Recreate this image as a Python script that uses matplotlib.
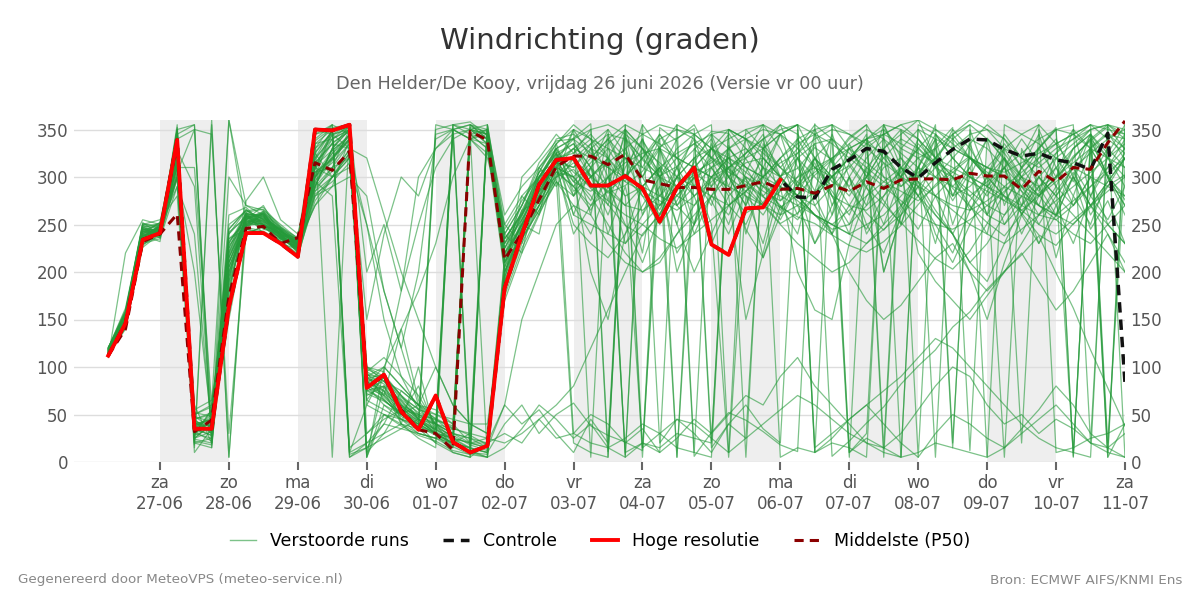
import matplotlib
matplotlib.use("Agg")
import matplotlib.pyplot as plt
from matplotlib.lines import Line2D
import pandas as pd

# ---------------- data ----------------
start_time = "2026-06-26 06:00"
n_steps = 60  # 6-hourly

day_ticks = ["2026-06-27", "2026-06-28", "2026-06-29", "2026-06-30", "2026-07-01",
             "2026-07-02", "2026-07-03", "2026-07-04", "2026-07-05", "2026-07-06",
             "2026-07-07", "2026-07-08", "2026-07-09", "2026-07-10", "2026-07-11"]
day_labels = ["za\n27-06", "zo\n28-06", "ma\n29-06", "di\n30-06", "wo\n01-07",
              "do\n02-07", "vr\n03-07", "za\n04-07", "zo\n05-07", "ma\n06-07",
              "di\n07-07", "wo\n08-07", "do\n09-07", "vr\n10-07", "za\n11-07"]
shaded_days = ["2026-06-27", "2026-06-29", "2026-07-01", "2026-07-03",
               "2026-07-05", "2026-07-07", "2026-07-09"]

hres = [112, 146, 234, 241, 339, 35, 35, 163, 241, 241, 230, 216, 350, 349, 355,
        78, 92, 53, 34, 70, 21, 10, 17, 183, 239, 292, 318, 320, 291, 291,
        301, 288, 253, 289, 310, 229, 218, 267, 268, 297]

control = [112, 146, 234, 241, 339, 35, 35, 163, 241, 241, 230, 216, 350, 349, 355,
           78, 92, 53, 34, 70, 21, 10, 17, 183, 239, 292, 318, 320, 291, 291,
           301, 288, 253, 289, 310, 229, 218, 267, 268, 297, 279, 278, 308, 318, 330,
           327, 310, 299, 315, 329, 340, 339, 329, 322, 325, 318, 315, 308, 346, 83]

p50 = [112, 140, 232, 240, 261, 32, 44, 174, 246, 248, 230, 236, 315, 307, 327,
       80, 90, 55, 34, 30, 13, 348, 339, 213, 241, 276, 311, 322, 322, 313,
       324, 297, 293, 289, 289, 287, 287, 291, 295, 287, 288, 283, 291, 285, 295,
       288, 297, 298, 298, 297, 304, 301, 301, 287, 306, 295, 310, 308, 336, 359]

run01 = [115,150,240,245,330,40,45,200,255,250,235,225,300,320,340, 80,60,45,30,25,15,350,340,230,260,290,310, 330,345,322,8,338,312,290,302,318,284,262,273,301,309,331,318,288,262,244,268,303,332,352,12,341,318,297,281,258,302,331,347,318]
run02 = [118,145,235,250,300,30,25,180,260,245,240,220,290,330,350, 90,70,50,40,20,10,5,20,200,240,280,320, 318,302,283,291,306,332,341,351,22,333,298,272,251,262,279,301,312,288,271,252,233,214,203,222,251,283,309,331,352,6,338,302,276]
run03 = [120,160,245,240,350,355,20,240,265,255,245,230,310,340,355, 10,80,55,35,350,355,345,330,220,250,300,330, 341,356,11,342,318,301,311,329,348,346,319,293,268,281,302,318,342,355,14,349,331,312,288,269,252,238,261,283,298,322,338,353,329]
run04 = [112,140,230,235,290,50,60,210,250,260,230,215,285,300,320, 100,85,60,45,30,25,20,15,180,230,270,300, 308,288,271,249,238,262,281,299,321,308,292,279,268,258,251,239,228,221,232,249,271,292,308,322,301,279,262,239,228,251,268,291,302]
run05 = [110,220,255,250,320,10,35,150,245,240,235,225,320,350,5, 15,40,35,30,25,20,15,10,40,60,30,50, 62,38,28,21,12,352,338,6,31,52,44,32,18,11,356,6,22,41,58,82,101,118,142,158,182,201,218,238,199,162,118,78,38]
run06 = [116,150,238,248,340,45,30,300,270,265,250,235,330,345,350, 85,75,40,25,15,350,340,320,250,280,300,325, 295,315,335,350,330,300,280,270,290,310,325,340,355,345,320,295,285,300,330,350,5,345,320,300,290,275,300,330,350,355,20,345,330]
run07 = [119,155,250,255,280,25,40,230,258,262,238,228,305,310,335, 95,110,90,70,40,30,355,350,210,235,265,305, 300,280,250,220,200,210,240,270,300,320,330,310,290,280,260,240,270,300,320,340,330,310,300,280,260,250,270,290,310,330,345,5,350]
run08 = [114,148,228,242,310,310,60,360,250,255,240,222,280,290,300, 280,180,120,60,30,20,10,5,190,245,285,315, 280,300,320,10,20,15,30,25,20,350,330,310,300,280,270,290,310,330,345,355,340,320,300,285,270,260,280,300,320,335,350,355,340]
run09 = [121,152,246,238,345,35,50,220,262,240,232,218,340,355,10, 20,30,40,35,345,350,355,340,240,270,310,335, 350,5,340,320,300,330,355,10,345,330,310,300,320,340,350,355,330,315,300,290,305,320,345,360,350,330,320,310,325,340,355,20,310]
run10 = [113,143,236,246,325,60,20,170,240,248,236,230,295,320,345, 75,65,50,60,45,30,25,20,60,150,200,250, 270,260,230,210,200,215,240,260,280,300,315,320,300,280,260,245,250,270,290,305,220,190,170,150,175,200,220,190,160,180,210,240,200]
run11 = [117,158,242,252,300,200,40,190,275,300,255,240,315,335,330, 320,260,200,150,100,60,40,30,205,255,295,320, 325,340,300,280,290,310,250,200,240,280,300,290,270,255,280,310,330,340,320,300,280,260,240,210,230,260,290,320,340,300,270,250,230]
run12 = [111,146,232,244,335,15,355,5,252,258,244,226,290,310,350, 5,50,45,40,30,345,350,335,225,265,300,328, 30,20,15,25,40,30,15,10,5,350,340,330,345,355,10,20,15,5,350,330,320,300,280,290,310,330,345,355,10,15,25,30,40]
run13 = [120,162,248,236,350,40,35,260,268,250,242,235,350,345,355, 88,92,70,55,50,40,350,345,215,250,285,318, 310,330,345,340,320,300,290,305,315,330,340,350,345,320,300,280,270,265,280,300,320,330,345,355,340,320,300,290,300,315,330,345,340]
run14 = [115,141,226,240,315,30,45,215,255,270,238,221,300,325,340, 70,80,65,45,35,355,10,20,195,238,278,306, 290,270,285,300,320,340,350,345,330,310,290,270,250,230,215,200,210,230,250,270,290,310,330,345,350,340,320,300,280,260,240,220,200]
run15 = [118,154,244,250,290,240,30,235,245,242,230,224,325,300,310, 250,150,90,55,40,30,20,350,235,260,305,340, 345,330,320,300,280,270,290,310,330,340,350,355,345,330,310,300,320,340,350,5,10,20,15,10,5,355,345,335,320,310,300,290,280]
run16 = [112,149,239,232,330,55,65,175,262,256,246,232,310,350,355, 5,60,50,40,30,20,345,330,200,245,290,322, 335,310,290,270,265,280,300,320,330,315,300,285,275,290,305,320,335,350,340,325,310,300,290,280,295,310,325,340,350,345,330,320,310]
run17 = [116,157,251,247,345,20,15,210,257,253,241,229,270,300,320, 82,100,140,180,230,300,340,350,260,290,310,330, 300,320,340,355,15,30,45,40,25,10,350,330,310,290,280,300,320,340,355,350,340,320,310,300,290,280,270,260,255,270,290,310,330]
run18 = [114,145,234,243,305,35,28,360,270,260,234,227,335,350,8, 15,25,35,45,40,35,30,25,20,30,45,60, 80,120,160,200,240,260,280,300,310,320,305,290,280,270,260,250,240,250,260,280,300,320,340,355,5,15,30,45,60,40,20,10,5]
run19 = [119,150,240,238,355,45,50,205,249,252,239,233,305,318,345, 95,85,75,60,50,45,40,40,170,220,260,300, 315,300,285,270,290,310,325,335,320,305,295,280,300,320,335,340,325,310,295,285,275,290,305,320,310,300,285,270,260,275,290,305,320]
run20 = [113,147,229,241,320,25,40,225,263,266,247,236,290,330,350, 78,70,55,40,30,25,355,340,230,270,315,338, 340,350,355,345,330,315,300,290,280,270,285,300,320,335,345,355,10,25,15,5,350,340,330,320,310,305,315,325,335,345,355,350,345]
run21 = [117,153,247,251,340,350,345,30,240,248,232,216,280,300,325, 30,45,55,50,40,25,15,10,215,250,280,310, 250,230,215,240,270,300,320,335,345,350,340,320,300,280,260,250,240,230,245,260,280,300,320,340,330,310,290,270,255,240,230,250,270]
run22 = [115,151,233,245,310,48,36,195,256,261,244,231,320,340,350, 90,75,60,50,45,35,340,335,205,240,275,302, 320,335,350,5,20,10,355,345,330,320,310,300,290,275,260,250,265,280,295,310,330,350,340,320,305,290,280,270,260,250,270,295,320]
run23 = [120,159,252,239,300,32,22,245,266,249,237,225,300,315,335, 65,55,45,35,30,20,350,355,245,275,300,324, 305,290,275,260,250,235,225,240,255,270,285,300,315,325,340,350,345,335,325,310,295,280,265,250,240,230,245,260,275,290,305,320,335]
run24 = [111,144,237,248,335,28,55,185,248,257,243,230,345,350,355, 5,100,80,60,40,30,25,15,190,235,270,298, 20,10,5,355,345,335,320,310,300,310,320,330,345,355,15,30,45,60,75,90,110,130,120,100,80,60,40,25,15,10,5,355,350]
run25 = [116,148,241,244,318,40,44,215,258,254,238,226,308,336,348, 85,90,70,45,30,20,15,350,225,255,290,315, 330,320,310,295,285,275,265,280,295,310,325,340,350,355,345,335,320,305,290,275,260,250,245,255,270,285,300,315,330,340,350,355,345]
run26 = [118,156,243,236,328,290,30,170,246,262,246,234,312,328,342, 100,95,180,250,310,340,350,345,220,260,295,330, 285,300,315,330,345,355,350,340,320,300,285,270,260,270,285,300,320,335,345,355,360,350,335,320,300,280,265,250,240,255,270,285,300]
run27 = [113,142,231,249,312,38,34,222,259,250,240,228,296,322,339, 60,50,40,30,25,35,345,340,210,245,285,312, 350,340,330,320,310,300,330,345,355,10,25,40,55,70,60,45,30,20,10,5,355,345,330,320,310,300,290,280,300,320,340,355,5]
run28 = [119,151,245,242,348,22,18,205,253,247,236,222,318,344,352, 80,72,58,48,36,28,18,12,200,248,282,316, 295,285,300,315,325,330,320,310,300,290,280,270,285,300,310,320,330,340,345,335,325,315,305,295,285,275,265,280,295,310,325,340,350]
run29 = [114,146,236,240,302,52,48,198,261,259,242,229,288,306,328, 92,88,66,52,44,38,352,348,235,262,298,326, 260,250,240,230,250,270,290,310,330,350,340,325,310,295,280,240,200,170,150,165,190,215,230,200,180,200,230,260,290,330,345,320,300]
run30 = [117,155,249,246,338,30,38,232,255,264,245,233,326,348,356, 72,64,52,42,34,355,358,344,218,252,292,320, 340,325,310,300,290,280,270,290,310,330,345,355,5,15,10,355,345,330,315,300,290,280,270,265,275,290,305,320,335,345,355,340,325]
run31 = [114,150,242,247,325,42,38,230,262,258,240,226,295,280,10, 60,95,40,100,28,20,30,355,250,230,310,290, 320,260,345,300,330,280,310,250,335,290,340,300,260,320,285,345,300,270,330,250,310,355,20,335,290,310,270,330,300,350,280,320,290]
run32 = [116,147,238,243,315,30,55,210,250,262,236,224,340,5,350, 85,70,140,65,40,15,345,5,205,280,260,335, 280,330,290,345,260,310,5,300,270,325,240,300,345,290,315,260,335,300,355,310,280,320,250,300,340,270,310,345,290,10,330,300,260]
run33 = [112,144,233,239,300,48,42,190,258,246,241,230,270,290,340, 95,65,50,80,35,25,20,15,60,40,55,30, 10,45,20,350,5,330,300,345,15,40,25,330,300,280,320,340,10,30,355,320,300,340,15,350,300,330,20,350,310,280,330,5,40]
run34 = [119,153,247,241,342,35,28,245,265,255,243,231,310,345,330, 100,90,60,35,20,350,340,325,240,220,300,310, 300,275,320,295,340,270,300,240,280,260,300,215,270,240,310,290,330,300,275,250,300,330,280,310,260,290,240,280,310,270,300,250,230]
run35 = [117,149,240,252,335,25,32,200,248,264,237,228,330,355,345, 75,80,45,38,30,10,5,350,230,255,285,300, 350,320,340,300,355,330,285,315,345,300,325,355,330,290,345,315,340,355,325,300,335,315,350,330,300,345,320,355,335,310,345,325,355]
run36 = [113,145,235,247,305,350,40,220,255,250,240,232,290,330,355, 200,250,180,300,330,345,20,25,215,250,240,320, 260,310,240,290,220,330,270,300,250,5,280,230,300,260,320,280,240,310,200,260,290,230,300,270,240,320,260,290,215,280,250,300,270]
run37 = [118,156,244,238,352,38,45,180,260,253,245,227,305,320,338, 90,100,80,60,100,60,40,30,190,300,320,345, 325,350,5,340,310,345,320,290,330,300,270,310,345,355,320,300,280,310,330,345,360,320,290,310,340,325,300,280,300,330,350,10,355]
run38 = [115,152,239,244,322,42,30,235,251,259,239,225,285,310,320, 82,68,52,44,30,18,10,8,185,240,270,310, 300,200,150,240,290,310,270,250,300,320,280,260,290,200,160,150,230,280,310,320,290,260,240,210,190,230,270,300,280,310,260,290,320]
run39 = [120,158,250,249,310,20,25,250,264,268,248,234,300,350,5, 20,40,75,60,55,40,20,20,30,20,45,25, 30,50,40,20,35,10,25,45,30,50,70,60,90,110,80,60,40,20,15,30,55,80,100,90,60,40,50,30,45,35,20,15,30]
run40 = [111,143,231,237,298,45,52,205,247,243,233,219,275,300,330, 150,240,300,280,330,350,340,345,200,235,265,295, 270,240,290,250,210,260,300,280,230,270,250,290,320,270,230,260,300,240,270,310,280,250,220,265,300,250,280,230,260,300,270,240,210]
run41 = [116,151,237,246,328,33,41,225,260,261,242,229,315,335,350, 78,85,62,48,40,355,350,345,210,265,275,325, 335,310,350,325,300,340,5,330,310,285,320,345,300,325,350,315,290,320,340,305,330,5,345,320,300,335,310,285,325,350,330,300,325]
run42 = [114,148,243,242,336,28,36,195,256,252,237,223,300,325,345, 88,78,58,42,32,22,12,5,195,245,290,318, 290,265,300,320,280,250,275,305,290,330,310,280,255,290,320,300,270,245,280,310,295,265,240,275,300,320,290,260,285,310,280,255,290]
run43 = [118,146,236,250,345,355,15,210,254,249,240,230,335,340,350, 65,90,70,50,38,26,350,335,225,258,300,330, 340,300,320,280,15,300,250,320,340,300,270,330,355,310,280,320,5,340,300,270,310,340,280,320,300,5,330,290,260,320,340,300,270]
run44 = [112,155,245,238,320,37,47,240,259,257,244,228,310,300,325, 250,180,120,200,340,350,5,350,240,270,305,315, 310,335,275,350,300,265,310,340,290,250,305,340,275,300,335,270,315,290,250,300,340,310,275,305,260,330,300,270,320,295,345,300,280]
run45 = [119,150,241,245,333,44,33,218,252,263,247,232,325,348,352, 92,82,64,46,34,24,345,350,210,250,280,305, 290,310,330,300,320,345,310,280,300,270,290,320,300,340,310,285,260,300,330,290,310,345,320,300,280,310,340,315,290,270,300,330,310]
run46 = [115,147,234,240,318,36,40,228,249,251,235,226,292,318,340, 76,66,48,38,28,16,8,355,220,246,270,318, 330,300,260,310,340,300,200,250,310,280,150,220,290,320,270,240,300,330,200,260,310,280,240,200,150,210,260,300,270,230,280,310,340]
run47 = [117,153,246,243,342,24,20,242,257,260,243,231,345,355,15, 30,50,38,28,22,12,8,5,15,35,60,45, 25,40,15,5,355,20,45,30,10,40,60,35,20,350,10,25,45,60,40,20,5,30,50,40,25,15,35,55,80,60,30,15,5]
run48 = [113,149,238,247,300,50,58,188,250,254,238,224,282,295,315, 98,88,68,56,46,36,28,18,175,225,262,295, 280,310,270,330,290,260,300,320,275,240,285,310,265,295,320,280,250,290,315,270,245,280,300,265,290,320,285,250,280,305,270,295,320]
run49 = [120,157,249,240,350,18,360,5,262,248,242,233,338,352,355, 10,30,60,45,355,350,355,345,235,262,305,335, 355,340,320,350,330,305,340,355,320,345,5,335,310,330,355,340,315,345,5,330,350,320,300,335,355,340,310,330,350,5,340,320,345]
run50 = [114,146,235,243,312,40,38,215,253,256,239,227,302,328,344, 84,74,56,44,34,24,14,10,200,242,288,312, 240,270,300,230,260,290,220,250,280,310,245,215,260,290,230,270,300,250,220,265,295,240,210,250,285,310,260,230,270,300,245,275,230]

runs = [run01, run02, run03, run04, run05, run06, run07, run08, run09, run10,
        run11, run12, run13, run14, run15, run16, run17, run18, run19, run20,
        run21, run22, run23, run24, run25, run26, run27, run28, run29, run30,
        run31, run32, run33, run34, run35, run36, run37, run38, run39, run40,
        run41, run42, run43, run44, run45, run46, run47, run48, run49, run50]

# ---------------- figure ----------------
times = pd.date_range(start_time, periods=n_steps, freq="6h")
tick_pos = pd.to_datetime(day_ticks)

fig = plt.figure(figsize=(12, 6), dpi=100)
x_left = pd.Timestamp("2026-06-25 18:00")
x_right = pd.Timestamp("2026-07-11 00:00")
ax = fig.add_axes([0.0615, 0.23, 0.876, 0.57])

for d in shaded_days:
    d0 = pd.Timestamp(d)
    ax.axvspan(d0, d0 + pd.Timedelta(days=1), color="#eeeeee", zorder=0, lw=0)

ens_color = "#259a3a"
for r in runs:
    ax.plot(times[:len(r)], r, color=ens_color, lw=0.9, alpha=0.6, zorder=2)

ax.plot(times[:len(control)], control, color="#111111", lw=2.5, ls=(0, (3, 2)), zorder=4)
ax.plot(times[:len(p50)], p50, color="#8b0000", lw=2.2, ls=(0, (3, 2)), zorder=5)
ax.plot(times[:len(hres)], hres, color="#ff0000", lw=2.8, zorder=6, solid_joinstyle="round")

ax.set_xlim(x_left, x_right)
ax.set_ylim(0, 360)
ax.set_yticks(range(0, 351, 50))
ax.yaxis.grid(True, color="#dddddd", lw=1)
ax.set_axisbelow(True)
ax.set_xticks(tick_pos)
ax.set_xticklabels(day_labels)
ax.tick_params(axis="x", length=6, width=1.5, color="#666666", labelsize=12,
               labelcolor="#555555", pad=3)
ax.tick_params(axis="y", length=0, labelsize=12, labelcolor="#555555",
               labelleft=True, labelright=True, pad=4)
for s in ax.spines.values():
    s.set_visible(False)

fig.text(0.5, 1 - 41 / 600, "Windrichting (graden)", ha="center", va="center",
         fontsize=21, color="#333333")
fig.text(0.5, 1 - 84 / 600, "Den Helder/De Kooy, vrijdag 26 juni 2026 (Versie vr 00 uur)",
         ha="center", va="center", fontsize=12.7, color="#666666")

handles = [
    Line2D([], [], color=ens_color, lw=1, alpha=0.6),
    Line2D([], [], color="#111111", lw=2.5, ls=(0, (3, 2))),
    Line2D([], [], color="#ff0000", lw=2.8),
    Line2D([], [], color="#8b0000", lw=2.2, ls=(0, (3, 2))),
]
labels = ["Verstoorde runs", "Controle", "Hoge resolutie", "Middelste (P50)"]
fig.legend(handles, labels, loc="center", bbox_to_anchor=(0.5, 1 - 541 / 600),
           ncol=4, frameon=False, fontsize=12.5, handlelength=1.5,
           handletextpad=0.8, columnspacing=2.0)

fig.text(18 / 1200, 1 - 580 / 600, "Gegenereerd door MeteoVPS (meteo-service.nl)",
         ha="left", va="center", fontsize=9.7, color="#888888")
fig.text(1182 / 1200, 1 - 580 / 600, "Bron: ECMWF AIFS/KNMI Ens",
         ha="right", va="center", fontsize=9.7, color="#888888")

fig.savefig("out.png", dpi=100)
